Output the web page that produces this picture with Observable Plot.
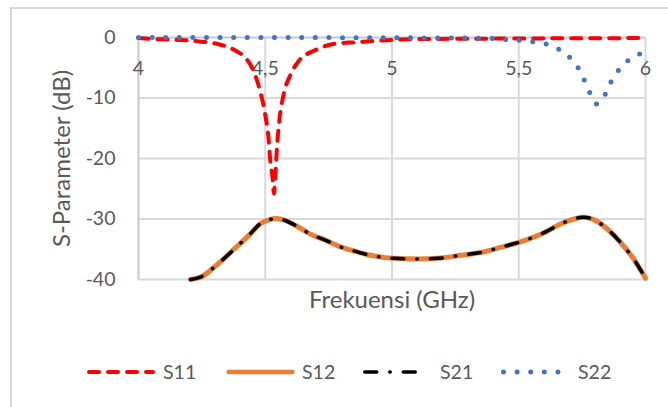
<!DOCTYPE html>
<html>
<head>
<meta charset="utf-8">
<script src="https://cdn.jsdelivr.net/npm/d3@7"></script>
<script src="https://cdn.jsdelivr.net/npm/@observablehq/plot@0.6"></script>
<style>
  html, body { margin: 0; padding: 0; background: #fff; overflow: hidden; }
  #wrap { position: relative; width: 668px; height: 407px; font-family: Lato, "Open Sans", sans-serif; color: #595959; }
  #frame { position: absolute; left: 10px; top: 7px; width: 700px; height: 450px; border: 2px solid #d9d9d9; box-sizing: border-box; }
  #chart { position: absolute; left: 0; top: 0; }
  .leg { position: absolute; top: 372px; transform: translateY(-50%); font-size: 19.5px; line-height: 1; white-space: nowrap; }
  .sw { position: absolute; top: 362px; }
</style>
</head>
<body>
<div id="wrap"><div id="frame"></div><div id="chart"></div></div>
<script>
// ---- data ----
const xTicks = [4, 4.5, 5, 5.5, 6];
const xTickLabels = ["4", "4,5", "5", "5,5", "6"];
const yTicks = [0, -10, -20, -30, -40];
const seriesNames = ["S11", "S12", "S21", "S22"];

const freqS11 = [4.0, 4.09, 4.16, 4.24, 4.31, 4.38, 4.42, 4.434, 4.46, 4.48, 4.50, 4.513, 4.52, 4.529, 4.534, 4.54, 4.546, 4.555, 4.572, 4.599, 4.63, 4.70, 4.78, 4.86, 4.93, 5.0, 5.08, 5.15, 5.3, 5.5, 5.7, 6.0];
const s11 = [-0.1, -0.3, -0.4, -0.66, -1.06, -2.1, -3.3, -4.0, -6.2, -8.9, -12.8, -16.7, -20.5, -23.3, -25.8, -22.7, -18.3, -13.9, -9.5, -6.2, -4.0, -2.05, -1.0, -0.78, -0.56, -0.4, -0.28, -0.25, -0.2, -0.17, -0.12, -0.1];

const freqS12 = [4.205, 4.25, 4.303, 4.382, 4.44, 4.48, 4.517, 4.546, 4.579, 4.625, 4.678, 4.743, 4.796, 4.836, 4.915, 5.006, 5.099, 5.18, 5.27, 5.355, 5.427, 5.519, 5.598, 5.677, 5.756, 5.796, 5.842, 5.90, 5.953, 6.0];
const s12 = [-40, -39.5, -37.8, -34.8, -32.5, -30.8, -30.1, -29.9, -30.25, -31.2, -32.5, -33.6, -34.6, -35.1, -36.0, -36.5, -36.6, -36.5, -36.0, -35.5, -34.7, -33.6, -32.3, -30.6, -29.7, -30.1, -31.4, -33.8, -36.6, -39.8];
const freqS21 = freqS12;
const s21 = [-40, -39.5, -37.8, -34.8, -32.5, -30.8, -30.1, -29.9, -30.25, -31.2, -32.5, -33.6, -34.6, -35.1, -36.0, -36.5, -36.6, -36.5, -36.0, -35.5, -34.7, -33.6, -32.3, -30.6, -29.7, -30.1, -31.4, -33.8, -36.6, -39.8];

const freqS22 = [4.0, 4.5, 5.0, 5.3, 5.39, 5.45, 5.50, 5.557, 5.609, 5.658, 5.701, 5.734, 5.758, 5.78, 5.807, 5.84, 5.863, 5.892, 5.928, 5.974, 6.0];
const s22 = [0, 0, -0.05, -0.1, -0.17, -0.33, -0.45, -0.73, -1.1, -1.94, -3.3, -5.0, -7.0, -9.1, -11.0, -9.5, -7.4, -5.5, -3.9, -2.8, -2.3];

// ---- styles ----
const styles = {
  S11: {stroke: "#ff0000", strokeWidth: 4, strokeDasharray: "10 9", strokeLinecap: "round"},
  S12: {stroke: "#ed7d31", strokeWidth: 5, strokeLinecap: "round"},
  S21: {stroke: "#000000", strokeWidth: 3.5, strokeDasharray: "12 13 0.5 13", strokeLinecap: "round"},
  S22: {stroke: "#4472c4", strokeWidth: 5, strokeDasharray: "0 13.6", strokeLinecap: "round"}
};

const toRows = (xs, ys) => xs.map((x, i) => ({x, y: ys[i]}));

const chart = Plot.plot({
  width: 668,
  height: 330,
  marginLeft: 138,
  marginRight: 23,
  marginTop: 37,
  marginBottom: 51,
  x: {domain: [4, 6], axis: null},
  y: {domain: [-40, 0], axis: null},
  style: {fontFamily: "Lato, 'Open Sans', sans-serif", color: "#595959", background: "transparent", overflow: "visible"},
  marks: [
    Plot.ruleY(yTicks.filter(d => d < 0), {stroke: "#d9d9d9", strokeWidth: 2}),
    Plot.ruleX(xTicks.filter(d => d > 4), {y1: -40, y2: 0, stroke: "#d9d9d9", strokeWidth: 2}),
    Plot.ruleX([4], {y1: -40, y2: 0, stroke: "#c8c8c8", strokeWidth: 2}),
    Plot.ruleY([0], {stroke: "#c8c8c8", strokeWidth: 2}),
    Plot.axisY({ticks: yTicks, tickSize: 0, tickPadding: 23, fontSize: 19.5, tickFormat: d => String(d), label: null}),
    Plot.text(xTicks, {x: d => d, y: 0, dy: 31, text: (d, i) => xTickLabels[i], fontSize: 19.5, fill: "#595959"}),
    Plot.line(toRows(freqS11, s11), {x: "x", y: "y", curve: "monotone-x", ...styles.S11}),
    Plot.line(toRows(freqS12, s12), {x: "x", y: "y", curve: "monotone-x", ...styles.S12}),
    Plot.line(toRows(freqS21, s21), {x: "x", y: "y", curve: "monotone-x", ...styles.S21}),
    Plot.line(toRows(freqS22, s22), {x: "x", y: "y", curve: "monotone-x", ...styles.S22}),
    Plot.text(["S-Parameter (dB)"], {frameAnchor: "left", dx: -76, rotate: -90, fontSize: 24, fill: "#595959", textAnchor: "middle", lineAnchor: "middle"}),
    Plot.text(["Frekuensi (GHz)"], {frameAnchor: "bottom", dy: 21, fontSize: 24, fill: "#595959", textAnchor: "middle", lineAnchor: "middle"})
  ]
});
document.getElementById("chart").appendChild(chart);

// ---- legend (HTML below/over the svg area) ----
const legendPos = [
  {name: "S11", sx: 87, sw: 68, tx: 163},
  {name: "S12", sx: 226, sw: 69, tx: 302},
  {name: "S21", sx: 363, sw: 60, tx: 440},
  {name: "S22", sx: 501, sw: 60, tx: 578}
];
const wrap = document.getElementById("wrap");
legendPos.forEach((p, i) => {
  const st = styles[seriesNames[i]];
  const ns = "http://www.w3.org/2000/svg";
  const svg = document.createElementNS(ns, "svg");
  svg.setAttribute("class", "sw");
  svg.setAttribute("width", p.sw + 8);
  svg.setAttribute("height", 20);
  svg.style.left = (p.sx - 4) + "px";
  const line = document.createElementNS(ns, "line");
  const cap = st.strokeLinecap === "round" ? st.strokeWidth / 2 : 0;
  line.setAttribute("x1", 4 + cap);
  line.setAttribute("x2", 4 + p.sw - cap);
  line.setAttribute("y1", 10);
  line.setAttribute("y2", 10);
  line.setAttribute("stroke", st.stroke);
  line.setAttribute("stroke-width", i === 1 ? 4.3 : st.strokeWidth);
  if (st.strokeDasharray) line.setAttribute("stroke-dasharray", st.strokeDasharray);
  line.setAttribute("stroke-linecap", st.strokeLinecap || "butt");
  svg.appendChild(line);
  wrap.appendChild(svg);
  const t = document.createElement("div");
  t.className = "leg";
  t.style.left = p.tx + "px";
  t.textContent = seriesNames[i];
  wrap.appendChild(t);
});
</script>
</body>
</html>
